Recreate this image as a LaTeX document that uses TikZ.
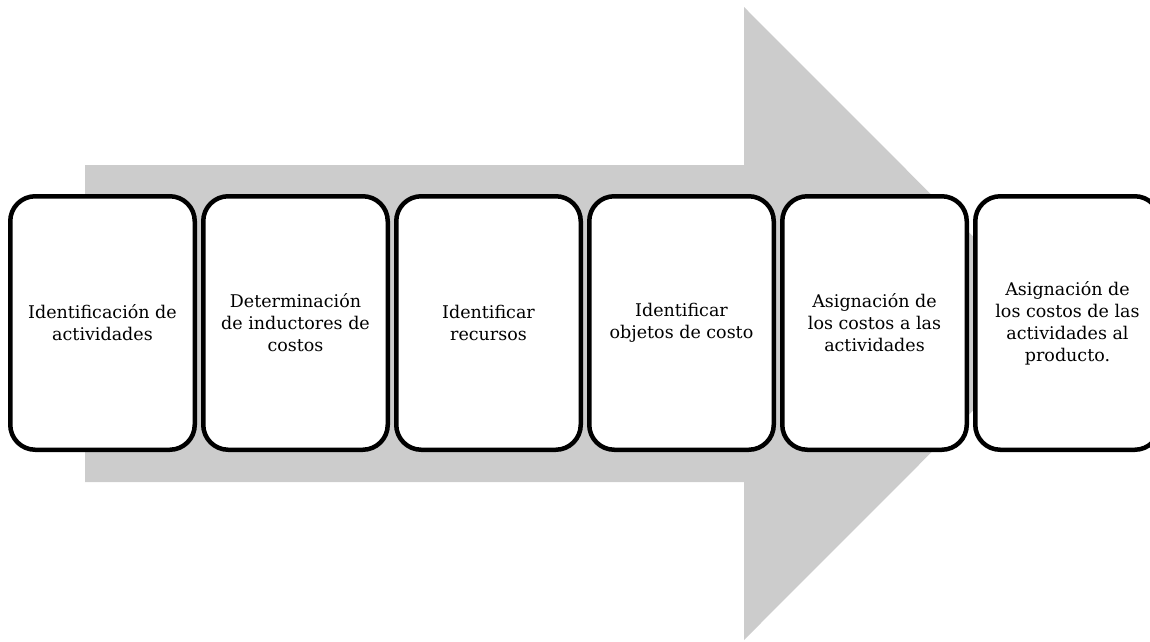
\documentclass[tikz,border=0pt]{standalone}
\usepackage{fontspec}
\setmainfont{DejaVu Serif}
\begin{document}
\begin{tikzpicture}[x=1pt,y=-1pt,
  stepbox/.style={draw=black, line width=4.5pt, fill=white, rounded corners=25pt,
    minimum width=184.5pt, minimum height=253.5pt, inner sep=0pt, align=center,
    font=\fontsize{17.5}{22}\selectfont},
  bigarrow/.style={fill=black!20, draw=none}]
\useasboundingbox (0,0) rectangle (1150,641);
\clip (0,0) rectangle (1150,641);
\fill[bigarrow] (85,165) -- (744,165) -- (744,7) -- (1060,323.5) -- (744,640) -- (744,482) -- (85,482) -- cycle;
\node[stepbox] (s1) at (102.5,323) {Identificación de\\actividades};
\node[stepbox] (s2) at (295.5,323) {Determinación\\de inductores de\\costos};
\node[stepbox] (s3) at (488.5,323) {Identificar\\recursos};
\node[stepbox] (s4) at (681.5,323) {Identificar\\objetos de costo};
\node[stepbox] (s5) at (874.5,323) {Asignación de\\los costos a las\\actividades};
\node[stepbox] (s6) at (1067.5,323) {Asignación de\\los costos de las\\actividades al\\producto.};
\end{tikzpicture}
\end{document}
